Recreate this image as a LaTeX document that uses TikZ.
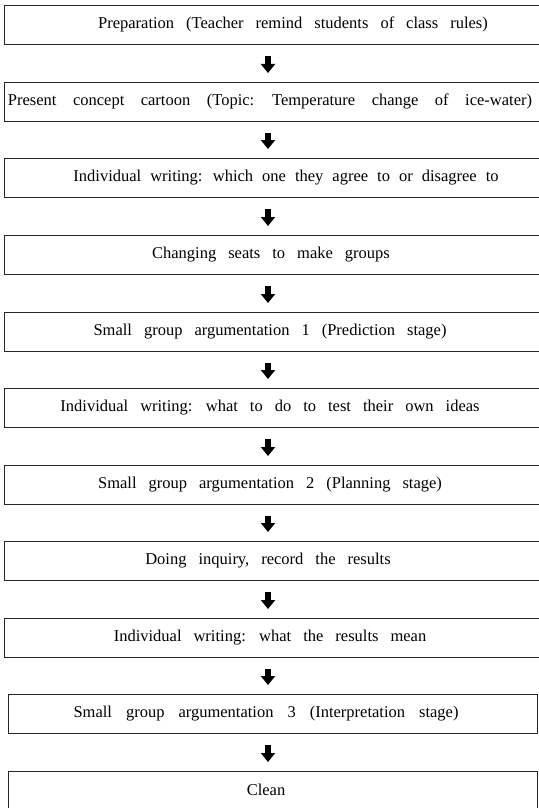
\documentclass[tikz,border=0pt]{standalone}
\usepackage{fontspec}
\setmainfont{Liberation Serif}
\usetikzlibrary{arrows.meta}
\newcommand{\stepfontx}[1]{\fontsize{16.5pt}{19pt}\selectfont\spaceskip=#1pt plus 1pt minus 1pt\relax}
\begin{document}
\begin{tikzpicture}[x=1pt,y=-1pt,
  stepbox/.style={draw=black!85,line width=0.9pt,minimum height=39pt,inner sep=0pt,anchor=north west},
  steptext/.style={inner sep=0pt,font={\stepfontx{#1}}},
  steptext/.default=12,
  flowarrow/.style={line width=5.5pt,-{Triangle[width=14pt,length=9pt]}}]
\useasboundingbox (0,0) rectangle (538,808);
\coordinate (ax) at (268,0);
\node[stepbox,minimum width=560pt] (b1) at (4,5) {};
\node[stepbox,minimum width=560pt] (b2) at (4,82) {};
\node[stepbox,minimum width=560pt] (b3) at (4,158) {};
\node[stepbox,minimum width=560pt] (b4) at (4,235) {};
\node[stepbox,minimum width=560pt] (b5) at (4,312) {};
\node[stepbox,minimum width=560pt] (b6) at (4,388) {};
\node[stepbox,minimum width=560pt] (b7) at (4,465) {};
\node[stepbox,minimum width=560pt] (b8) at (4,541) {};
\node[stepbox,minimum width=560pt] (b9) at (4,618) {};
\node[stepbox,minimum width=529pt] (b10) at (8,694) {};
\node[stepbox,minimum width=529pt] (b11) at (8,771) {};
\node[steptext] (t1) at (293,24.5) {Preparation (Teacher remind students of class rules)};
\node[steptext=16.5] (t2) at (270,101.5) {Present concept cartoon (Topic: Temperature change of ice-water)};
\node[steptext=9] (t3) at (286,177.5) {Individual writing: which one they agree to or disagree to};
\node[steptext] (t4) at (271,254.5) {Changing seats to make groups};
\node[steptext] (t5) at (270,331.5) {Small group argumentation 1 (Prediction stage)};
\node[steptext] (t6) at (270,407.5) {Individual writing: what to do to test their own ideas};
\node[steptext] (t7) at (270,484.5) {Small group argumentation 2 (Planning stage)};
\node[steptext] (t8) at (268,560.5) {Doing inquiry, record the results};
\node[steptext] (t9) at (270,637.5) {Individual writing: what the results mean};
\node[steptext=14] (t10) at (266,713.5) {Small group argumentation 3 (Interpretation stage)};
\node[steptext] (t11) at (266,790) {Clean};
\foreach \a/\b in {b1/b2,b2/b3,b3/b4,b4/b5,b5/b6,b6/b7,b7/b8,b8/b9,b9/b10,b10/b11}
  \draw[flowarrow] ([yshift=-11pt]\a.south -| ax) -- ([yshift=9pt]\b.north -| ax);
\end{tikzpicture}
\end{document}
